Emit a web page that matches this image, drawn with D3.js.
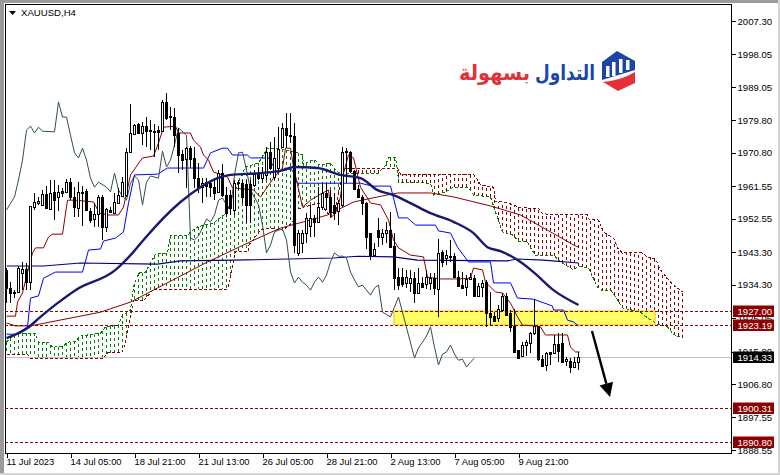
<!DOCTYPE html>
<html><head><meta charset="utf-8">
<script src="https://cdn.jsdelivr.net/npm/d3@7"></script>
<style>html,body{margin:0;padding:0;background:#fff;overflow:hidden}svg{display:block}text{font-family:"Liberation Sans",Arial,sans-serif}</style>
</head><body><div id="c"></div>
<script>
const symbolLabel = "XAUUSD,H4";
const priceTicks = [2007.30,1998.05,1989.05,1979.80,1970.80,1961.55,1952.55,1943.30,1934.30,1925.05,1915.80,1906.80,1897.55,1888.55];
const timeTickBars = [0,16,32,48,64,80,96,112,128];
const timeTickLabels = ["11 Jul 2023","14 Jul 05:00","18 Jul 21:00","21 Jul 13:00","26 Jul 05:00","28 Jul 21:00","2 Aug 13:00","7 Aug 05:00","9 Aug 21:00"];
const levelPrices = [1927.00,1923.19,1900.31,1890.80];
const lastPrice = 1914.33;

const opens = [1938.4,1933.4,1932.3,1932.3,1937.5,1938.6,1935.0,1955.8,1956.9,1956.4,1959.4,1955.3,1960.0,1958.6,1960.2,1960.0,1962.7,1958.6,1955.5,1960.0,1960.2,1954.7,1952.5,1953.9,1958.6,1950.3,1955.0,1954.1,1956.9,1958.8,1959.1,1971.0,1976.0,1978.8,1976.3,1978.2,1977.1,1976.8,1977.1,1976.8,1984.9,1981.0,1980.7,1976.3,1970.5,1969.1,1972.1,1969.4,1963.8,1961.3,1962.7,1962.4,1961.3,1960.0,1965.2,1959.1,1959.1,1955.0,1962.7,1962.4,1962.2,1962.2,1961.9,1965.2,1963.8,1964.7,1971.0,1964.1,1966.6,1972.4,1977.7,1975.7,1975.5,1943.1,1945.8,1948.6,1950.5,1952.8,1951.7,1955.8,1959.7,1958.6,1956.4,1954.7,1956.4,1971.3,1971.0,1965.8,1960.8,1958.6,1956.9,1948.6,1942.5,1949.4,1947.5,1948.6,1949.4,1945.0,1936.4,1936.4,1934.8,1934.8,1936.1,1932.0,1934.8,1934.5,1934.8,1936.1,1933.1,1943.3,1941.7,1942.2,1942.2,1936.4,1934.2,1933.7,1935.9,1936.1,1931.2,1933.7,1935.0,1926.5,1925.6,1925.1,1927.3,1931.2,1926.5,1922.9,1916.2,1914.6,1917.6,1918.2,1920.9,1922.9,1913.7,1912.1,1915.7,1915.4,1917.9,1918.2,1913.2,1913.2,1911.5,1912.9];
const highs = [1938.9,1935.0,1932.8,1939.5,1940.6,1940.3,1956.1,1959.7,1958.6,1960.5,1961.6,1963.3,1963.3,1961.9,1961.1,1963.5,1963.8,1961.3,1962.7,1961.6,1960.8,1955.5,1956.9,1959.1,1959.1,1955.5,1955.8,1959.7,1961.1,1964.1,1972.1,1984.3,1978.8,1979.1,1979.3,1980.7,1979.9,1978.8,1978.2,1985.4,1987.4,1983.5,1983.2,1977.7,1971.6,1972.4,1972.7,1972.4,1968.0,1963.8,1963.8,1963.3,1963.3,1966.0,1967.7,1961.3,1960.5,1963.3,1963.3,1963.3,1963.3,1963.3,1966.0,1966.9,1966.9,1972.4,1973.8,1975.2,1977.9,1979.1,1981.8,1981.8,1979.1,1949.4,1949.4,1954.1,1956.4,1953.6,1961.3,1962.4,1962.4,1960.5,1959.7,1957.7,1972.4,1972.1,1971.3,1966.0,1961.9,1959.1,1957.2,1948.6,1945.8,1952.8,1949.7,1951.7,1954.4,1948.6,1938.9,1938.9,1938.4,1938.4,1937.8,1938.9,1936.4,1938.4,1937.5,1937.5,1946.9,1943.9,1943.9,1946.7,1943.1,1938.1,1937.8,1937.0,1937.5,1937.0,1934.8,1935.6,1935.6,1932.3,1926.7,1928.7,1932.0,1932.0,1927.3,1927.6,1916.2,1918.4,1919.0,1921.2,1930.3,1922.9,1914.8,1915.7,1915.7,1920.4,1920.9,1920.9,1914.3,1914.0,1914.3,1915.7];
const lows = [1929.2,1929.2,1930.6,1932.0,1932.8,1932.8,1932.8,1955.0,1956.4,1956.1,1955.5,1955.3,1952.2,1954.7,1958.6,1959.7,1957.7,1953.0,1953.0,1950.5,1955.0,1951.4,1950.3,1950.3,1946.7,1948.9,1954.1,1954.1,1956.9,1958.6,1958.6,1970.8,1975.7,1976.0,1973.0,1972.4,1971.6,1969.6,1971.6,1976.6,1979.9,1977.1,1972.4,1965.2,1966.0,1961.1,1966.6,1961.1,1959.7,1956.9,1958.6,1958.6,1957.7,1959.7,1958.6,1953.0,1953.6,1953.6,1960.5,1956.9,1951.4,1951.4,1961.3,1963.3,1962.4,1963.3,1966.0,1963.3,1966.0,1972.1,1972.1,1973.5,1943.1,1942.2,1943.1,1945.8,1947.5,1947.5,1951.4,1955.0,1955.0,1953.0,1952.2,1950.8,1955.8,1962.4,1965.2,1960.5,1958.3,1953.6,1944.2,1941.1,1942.5,1944.7,1945.3,1945.8,1944.7,1932.8,1932.8,1933.7,1933.4,1932.3,1929.2,1932.0,1933.4,1933.1,1932.8,1931.4,1925.4,1939.2,1939.7,1940.6,1936.1,1933.7,1933.1,1931.2,1935.6,1931.2,1930.9,1930.9,1922.6,1923.1,1924.0,1924.0,1926.7,1925.6,1921.2,1915.4,1914.0,1914.3,1914.6,1915.4,1920.4,1913.2,1911.5,1910.4,1912.1,1915.1,1912.9,1912.6,1911.8,1909.9,1911.2,1910.7];
const closes = [1933.4,1932.0,1932.0,1938.9,1938.6,1935.0,1956.1,1957.2,1957.5,1959.4,1955.5,1959.7,1957.7,1960.0,1959.7,1962.7,1958.6,1955.8,1960.0,1959.7,1955.0,1952.2,1953.9,1958.6,1950.3,1955.3,1954.4,1957.2,1959.1,1962.7,1971.0,1976.3,1978.5,1976.3,1978.2,1976.8,1976.8,1976.6,1976.6,1984.9,1980.4,1980.7,1975.7,1970.2,1968.8,1972.1,1969.1,1963.8,1961.1,1962.4,1961.6,1961.3,1959.7,1965.2,1959.1,1954.1,1955.5,1962.4,1962.4,1958.6,1956.4,1956.4,1964.9,1963.8,1965.2,1971.0,1966.6,1969.4,1971.9,1977.7,1975.7,1975.5,1945.3,1948.6,1948.6,1952.8,1952.8,1951.7,1955.8,1959.7,1958.6,1954.4,1954.1,1956.9,1971.0,1971.0,1965.8,1960.8,1958.6,1956.9,1947.5,1942.5,1944.2,1947.5,1948.6,1949.4,1944.7,1936.1,1934.2,1934.5,1936.4,1936.1,1932.0,1934.8,1933.7,1936.4,1936.1,1933.4,1943.1,1940.6,1942.5,1942.0,1936.4,1933.9,1933.4,1935.9,1936.4,1931.2,1933.9,1934.8,1926.5,1925.4,1924.2,1927.6,1931.2,1925.9,1922.6,1915.7,1914.0,1917.6,1918.4,1920.9,1922.9,1913.7,1911.8,1915.4,1915.1,1917.9,1916.0,1912.9,1913.7,1911.5,1912.9,1914.3];

const chikouBars = [0,2,3,4,5,6,7,8,9,12,13,14,15,16,17,18,19,20,21,22,23,25,26,27,28,29,30,31,32,33,34,35,36,38,39,40,41,42,43,45,46,47,48,49,50,51,52,53,54,55,56,57,58,59,60,61,63,64,65,66,67,68,69,70,71,72,73,74,75,76,77,78,79,80,81,82,83,84,85,86,87,88,89,91,92,93,94,96,98,102,103,104,105,106,107,108,109,110,111,112,113,114,115,116,117];
const chikouVals = [1955.0,1958.6,1963.3,1968.8,1977.1,1978.2,1976.3,1977.9,1976.8,1976.6,1984.9,1980.7,1980.7,1975.7,1970.8,1969.4,1972.1,1968.8,1963.8,1961.3,1962.7,1961.3,1960.0,1965.2,1960.5,1958.8,1957.7,1962.4,1964.4,1963.3,1956.4,1962.7,1964.4,1963.8,1971.3,1966.9,1968.8,1973.0,1977.7,1975.7,1947.2,1946.7,1947.8,1950.0,1952.5,1951.7,1953.6,1957.7,1958.3,1956.4,1955.0,1964.7,1970.8,1971.0,1966.0,1960.5,1956.4,1950.8,1943.1,1945.3,1948.9,1949.4,1949.7,1946.7,1937.8,1934.8,1936.4,1935.0,1934.2,1932.8,1935.0,1936.4,1935.0,1937.0,1940.6,1943.1,1942.2,1942.2,1941.7,1937.8,1935.6,1933.7,1934.2,1931.4,1933.4,1934.2,1926.7,1925.4,1930.9,1914.0,1916.8,1918.4,1920.1,1922.6,1917.0,1912.1,1915.1,1915.7,1917.6,1915.1,1913.4,1913.7,1911.5,1912.9,1914.0];

const tenkanBars = [0,2.25,2.75,4,5.25,6.5,7.25,9.25,10.5,11.5,14,15.25,17.25,21.75,23.25,25.5,28,29.25,31,34,36.75,38,39.25,42.25,43,46,46.75,48.5,49.25,50.5,51.75,55.25,56.5,61.75,63.5,66.75,69,69.75,71,71.75,74,76,79,80.5,81.25,82.25,83.5,84.25,85.5,86.75,88.5,91,93.5,95.5,96.75,98,101,104.25,105.25,108.5,113,116,116.75,119,119.75,122.25,124,126,127.75,129,131.75,133.5,134.75,140.25,141,142.25,143.25];
const tenkanVals = [1925.6,1925.6,1929.5,1932.0,1937.8,1943.1,1944.5,1944.5,1947.5,1948.3,1948.3,1957.7,1957.7,1957.2,1954.1,1953.6,1953.6,1955.8,1964.7,1969.4,1969.9,1973.5,1977.9,1978.2,1976.3,1976.3,1974.3,1972.4,1970.2,1968.8,1965.5,1964.1,1961.1,1960.5,1958.6,1963.8,1966.6,1972.1,1972.1,1966.9,1955.8,1957.7,1959.7,1960.5,1953.0,1954.1,1958.6,1965.2,1970.2,1969.4,1961.3,1956.9,1956.4,1952.2,1946.7,1944.5,1942.5,1942.0,1936.4,1935.9,1935.9,1936.1,1938.9,1938.4,1935.0,1932.3,1932.0,1929.2,1925.4,1923.1,1922.9,1922.6,1920.4,1920.4,1917.0,1915.7,1915.7];

const kijunBars = [0,2.25,5.25,6,8,9.25,12.25,19,20.5,23.5,24.25,27.25,29.25,30.5,32,37.75,40.25,49.25,51,54,55.25,56.5,60.25,61,65.5,67.75,69.75,71.5,72.75,88.5,91.5,96,98,100.25,102.25,107.25,108,111,112.75,115.5,121,121.75,126,127.75,131.75,136.5,136.75,139.25,140.25,141.75,143];
const kijunVals = [1920.6,1920.6,1922.6,1930.6,1931.2,1936.1,1937.8,1937.8,1943.9,1944.2,1946.4,1947.2,1948.9,1956.9,1964.7,1964.9,1966.6,1966.6,1970.8,1972.1,1972.1,1970.2,1970.2,1969.4,1969.4,1965.2,1966.6,1966.0,1962.4,1962.4,1961.6,1961.6,1952.8,1952.8,1950.8,1950.8,1949.2,1948.6,1944.7,1940.6,1940.6,1934.8,1934.8,1930.6,1930.3,1928.4,1927.3,1927.3,1924.5,1924.0,1922.9];

const fastMaBars = [0,5.25,8.5,12.75,17.25,27.25,31.75,34.25,43.5,48.5,52.75,56,63.5,69.25,71.75,77.75,83.5,88.5,92.75,96.75,101,106,111.75,116.75,120.25,123.5,128.5,131.75,136.75,143];
const fastMaVals = [1919.5,1922.3,1925.4,1929.2,1932.8,1938.4,1943.4,1946.7,1957.2,1961.3,1963.8,1964.7,1965.2,1966.0,1966.9,1966.6,1964.7,1963.8,1960.5,1959.1,1956.9,1954.1,1951.7,1948.6,1944.7,1943.6,1940.6,1937.8,1932.8,1928.7];

const midMaBars = [0,2.25,6,23.5,31,37.75,50.25,63.5,68.5,74.25,80.25,86.75,92.75,97.75,106,111.75,121,128.5,135.25,141.75,143];
const midMaVals = [1923.7,1922.9,1922.9,1926.7,1929.5,1933.4,1940.6,1947.5,1950.0,1951.7,1953.6,1957.2,1958.6,1959.7,1959.7,1958.6,1956.1,1953.6,1949.4,1945.3,1944.7];

const slowMaBars = [0,9.25,18.5,37.75,43.5,56.75,81.75,87.75,96.75,102.75,125.25,127.75,134.25,143];
const slowMaVals = [1939.5,1939.5,1940.3,1940.0,1940.9,1941.1,1941.7,1942.2,1942.0,1941.1,1940.9,1941.4,1941.1,1940.3];

const spanABars = [0,1.75,3.5,7.25,8,10.5,11.5,14.25,15.25,17.25,18.5,23.5,24.75,28,29,31,31.75,33,34.75,37.25,40.25,41,45.25,46,47.75,51.75,55.25,56,58.5,59.75,63,65.25,68,69.75,72.75,74,74.25,76,77.25,78,81,82.25,84,86.5,93,94.75,95.5,97.25,97.75,98,106,106.75,109.75,111.75,115.5,116.75,121,122.75,124,126.5,128,130.25,131,132.25,136.75,138.5,141.75,143,145.5,147.75,149,151.25,152.25,154,158.5,160.25,162.75,165.25,166.75,169];
const spanAVals = [1918.4,1920.4,1920.9,1920.9,1918.4,1918.4,1917.0,1917.3,1918.4,1918.7,1920.1,1920.9,1922.6,1923.1,1925.9,1927.3,1933.7,1937.5,1937.8,1942.8,1943.1,1947.8,1947.8,1948.9,1950.3,1951.4,1954.4,1957.7,1964.1,1966.9,1968.0,1972.1,1972.1,1971.6,1970.8,1970.2,1967.4,1968.8,1968.8,1967.4,1968.0,1966.0,1964.7,1965.2,1965.2,1967.4,1969.4,1969.4,1966.0,1962.7,1962.4,1959.1,1960.0,1961.3,1961.3,1959.1,1958.6,1952.8,1948.9,1948.1,1946.4,1946.1,1944.5,1942.5,1942.5,1940.6,1938.4,1939.5,1938.9,1933.7,1932.6,1932.6,1930.9,1927.9,1926.7,1925.1,1923.4,1922.6,1920.6,1919.5];
const spanBBars = [0,5.25,6,24.25,25.25,29,29.75,31.75,34.25,36.75,55.25,56.5,57.25,60.5,60.6,63.5,66,69,71.5,72.25,74.25,78.5,81,82.25,83,84,84.75,97.75,98.5,116.75,117.75,118.5,121.75,122.25,124.25,126.75,128,130.25,133,134,145.25,145.5,148,149.25,151.75,152.75,154,159,160.25,162.25,163.5,166,169];
const spanBVals = [1915.1,1915.1,1914.0,1914.0,1915.4,1915.7,1918.2,1930.1,1929.8,1933.1,1933.1,1939.2,1943.4,1943.6,1945.3,1949.4,1950.0,1949.4,1951.4,1955.0,1955.8,1956.9,1953.0,1954.4,1960.0,1964.7,1966.6,1966.6,1964.9,1964.9,1963.3,1961.9,1961.3,1957.2,1957.2,1956.4,1955.8,1955.5,1955.5,1953.9,1953.6,1952.5,1952.2,1948.9,1947.2,1944.5,1943.1,1943.1,1942.0,1941.4,1938.4,1935.0,1932.3];

const barIndex = d3.range(opens.length);
const hatchBars = d3.range(0, 170);

const W = 780, H = 475;
const svg = d3.select("#c").append("svg").attr("width", W).attr("height", H);
const x = d3.scaleLinear().domain([0, 16]).range([6, 70]);
const y = d3.scaleLinear().domain([2007.30, 1888.55]).range([21, 450]);
const plotL = 5, plotR = 731, plotT = 4, plotB = 453;
const DARK = "#8b0000";

svg.append("rect").attr("width", W).attr("height", H).attr("fill", "#d4d4d4");
svg.append("rect").attr("x", 0).attr("y", 0).attr("width", 778).attr("height", 3).attr("fill", "#9a9a9a");
svg.append("rect").attr("x", 0).attr("y", 0).attr("width", 4).attr("height", 473).attr("fill", "#9a9a9a");
svg.append("rect").attr("x", 4).attr("y", 3).attr("width", 774).attr("height", 470).attr("fill", "#fff");

svg.append("defs").append("clipPath").attr("id", "plot").append("rect")
  .attr("x", plotL).attr("y", plotT).attr("width", plotR - plotL).attr("height", plotB - plotT);
const g = svg.append("g").attr("clip-path", "url(#plot)");

// Cloud hatch
const spanA = d3.scaleLinear().domain(spanABars).range(spanAVals);
const spanB = d3.scaleLinear().domain(spanBBars).range(spanBVals);
g.append("g").selectAll("line").data(hatchBars).join("line")
  .attr("x1", d => x(d) + .5).attr("x2", d => x(d) + .5)
  .attr("y1", d => y(spanA(d))).attr("y2", d => y(spanB(d)))
  .attr("stroke", d => spanA(d) >= spanB(d) ? "#008000" : DARK)
  .attr("stroke-width", 1).attr("stroke-dasharray", "3,3").attr("shape-rendering", "crispEdges");

// Highlighted zone
g.append("rect").attr("x", x(97)).attr("width", x(162.25) - x(97))
  .attr("y", y(levelPrices[0])).attr("height", y(levelPrices[1]) - y(levelPrices[0]))
  .attr("fill", "#ffff66").attr("stroke", "#ffcc33").attr("stroke-width", 1.5);

const pathOf = (bars, vals, curve) => d3.line().curve(curve || d3.curveLinear).x(d => x(d) + .5).y((d, i) => y(vals[i]))(bars);
const drawLine = (bars, vals, color, width, dash, curve) => g.append("path")
  .attr("d", pathOf(bars, vals, curve)).attr("fill", "none").attr("stroke", color)
  .attr("stroke-width", width).attr("stroke-dasharray", dash || null);

drawLine(spanABars, spanAVals, "#008000", 1, "3,2").attr("shape-rendering", "crispEdges");
drawLine(spanBBars, spanBVals, DARK, 1, "3,2").attr("shape-rendering", "crispEdges");

// Horizontal levels
g.append("g").selectAll("line").data(levelPrices).join("line")
  .attr("x1", plotL).attr("x2", plotR)
  .attr("y1", d => Math.round(y(d)) + .5).attr("y2", d => Math.round(y(d)) + .5)
  .attr("stroke", DARK).attr("stroke-dasharray", "3,2").attr("shape-rendering", "crispEdges");
g.append("line").attr("x1", plotL).attr("x2", plotR)
  .attr("y1", Math.round(y(lastPrice)) + .5).attr("y2", Math.round(y(lastPrice)) + .5)
  .attr("stroke", "#c0c0c0").attr("shape-rendering", "crispEdges");

drawLine(slowMaBars, slowMaVals, "#000080", 1.1);
drawLine(midMaBars, midMaVals, DARK, 1);
drawLine(kijunBars, kijunVals, "#0000ff", 1);
drawLine(tenkanBars, tenkanVals, DARK, 1);
drawLine(chikouBars, chikouVals, "#2f4f4f", 1);

// Candles
const candles = g.append("g");
candles.selectAll("line").data(barIndex).join("line")
  .attr("x1", i => x(i) + .5).attr("x2", i => x(i) + .5)
  .attr("y1", i => Math.round(y(highs[i]))).attr("y2", i => Math.round(y(lows[i])))
  .attr("stroke", "#000").attr("shape-rendering", "crispEdges");
candles.selectAll("rect").data(barIndex).join("rect")
  .attr("x", i => x(i) - .5).attr("width", 2)
  .attr("y", i => Math.round(y(Math.max(opens[i], closes[i]))) + .5)
  .attr("height", i => Math.max(1, Math.round(y(Math.min(opens[i], closes[i]))) - Math.round(y(Math.max(opens[i], closes[i])))))
  .attr("fill", i => closes[i] >= opens[i] ? "#fff" : "#000")
  .attr("stroke", "#000").attr("shape-rendering", "crispEdges");

drawLine(fastMaBars, fastMaVals, "#191970", 2.4, null, d3.curveMonotoneX);

// Arrow annotation
const arrowTail = [146.5, 1921.5], arrowTip = [151, 1903.2];
const ax0 = x(arrowTail[0]), ay0 = y(arrowTail[1]), ax1 = x(arrowTip[0]), ay1 = y(arrowTip[1]);
const ang = Math.atan2(ay1 - ay0, ax1 - ax0), hl = 14, hw = 7;
const bx = ax1 - hl * Math.cos(ang), by = ay1 - hl * Math.sin(ang);
g.append("line").attr("x1", ax0).attr("y1", ay0).attr("x2", bx).attr("y2", by).attr("stroke", "#000").attr("stroke-width", 2.4);
g.append("polygon").attr("fill", "#000").attr("points", [
  [ax1, ay1], [bx - hw * Math.sin(ang), by + hw * Math.cos(ang)], [bx + hw * Math.sin(ang), by - hw * Math.cos(ang)]
].join(" "));

// Frame
svg.append("rect").attr("x", plotL + .5).attr("y", plotT + .5).attr("width", plotR - plotL).attr("height", plotB - plotT)
  .attr("fill", "none").attr("stroke", "#000").attr("shape-rendering", "crispEdges");

// Axes
const yAxis = d3.axisRight(y).tickValues(priceTicks).tickFormat(d => d.toFixed(2)).tickSize(4).tickPadding(2);
const gy = svg.append("g").attr("transform", `translate(${plotR + .5},0)`).call(yAxis);
gy.select(".domain").remove();
gy.selectAll("line").attr("stroke", "#000").attr("shape-rendering", "crispEdges");
gy.selectAll("text").attr("font-size", 9.6).attr("fill", "#000").attr("font-family", '"Liberation Sans",Arial,sans-serif');

const xAxis = d3.axisBottom(x).tickValues(timeTickBars).tickFormat((d, i) => timeTickLabels[i]).tickSize(4).tickPadding(1);
const gx = svg.append("g").attr("transform", `translate(0.5,${plotB + .5})`).call(xAxis);
gx.select(".domain").remove();
gx.selectAll("line").attr("stroke", "#000").attr("shape-rendering", "crispEdges");
gx.selectAll("text").attr("font-size", 9.4).attr("fill", "#000").attr("text-anchor", "start").attr("x", -0.5)
  .attr("font-family", '"Liberation Sans",Arial,sans-serif');

// Price tags
const tags = levelPrices.map(p => ({ p, fill: DARK })).concat([{ p: lastPrice, fill: "#000" }]);
const tag = svg.append("g").selectAll("g").data(tags).join("g")
  .attr("transform", d => `translate(733,${Math.round(y(d.p))})`);
tag.append("rect").attr("x", 0).attr("y", -5.5).attr("width", 41).attr("height", 11.5).attr("fill", d => d.fill);
tag.append("text").attr("x", 4.5).attr("y", 3.8).attr("font-size", 9.6).attr("fill", "#fff").text(d => d.p.toFixed(2));

// Symbol header
svg.append("polygon").attr("points", "9,11 16,11 12.5,15").attr("fill", "#000");
svg.append("text").attr("x", 21).attr("y", 16).attr("font-size", 9.6).attr("fill", "#000").text(symbolLabel);

// Logo
const logo = svg.append("g");
logo.append("text").attr("x", 535).attr("y", 80).attr("font-size", 21).attr("font-weight", 700)
  .attr("textLength", 60).attr("lengthAdjust", "spacingAndGlyphs")
  .style("font-family", '"DejaVu Sans",sans-serif').attr("fill", "#1b45a8").text("التداول");
logo.append("text").attr("x", 459).attr("y", 80).attr("font-size", 21).attr("font-weight", 700)
  .attr("textLength", 71).attr("lengthAdjust", "spacingAndGlyphs")
  .style("font-family", '"DejaVu Sans",sans-serif').attr("fill", "#e5303a").text("بسهولة");
logo.append("polygon").attr("points", "617,51 635,61 635,70 602,80 602,62").attr("fill", "#1b45a8");
[[606,66,77],[612,62,76],[619,59,73],[626,60,70]].forEach(b => logo.append("rect").attr("x", b[0]).attr("y", b[1]).attr("width", 3.5).attr("height", b[2] - b[1]).attr("fill", "#fff"));
logo.append("path").attr("d", "M603 82 Q622 80 635 72 L635 83 L618 91 Z").attr("fill", "#e5303a");
</script></body></html>
